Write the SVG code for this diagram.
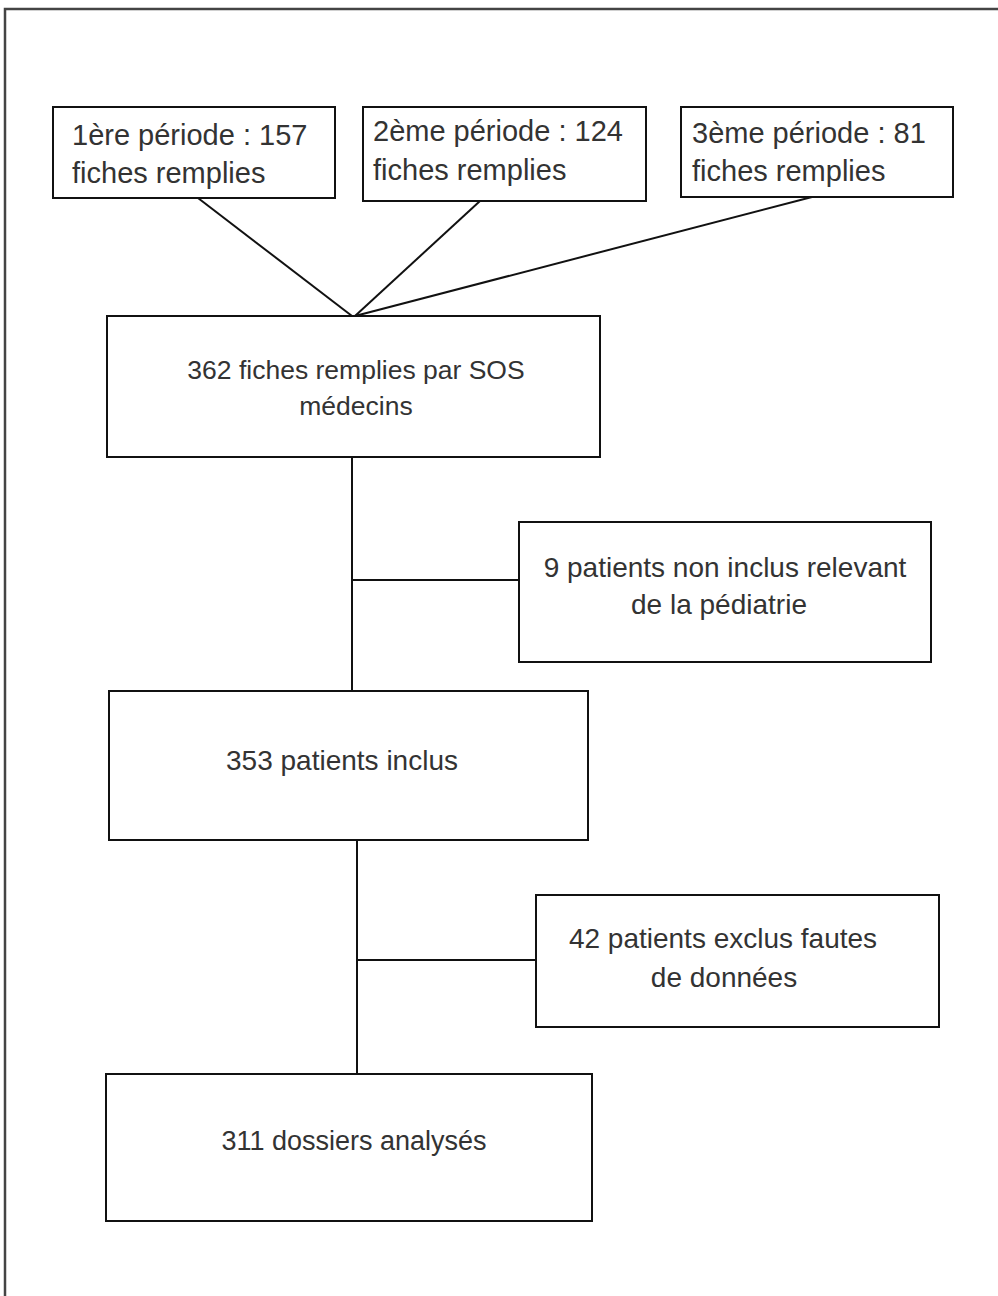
<svg xmlns="http://www.w3.org/2000/svg" width="998" height="1296" viewBox="0 0 998 1296">
<style>
.box{fill:#fff;stroke:#111;stroke-width:2}
.t{font-family:"Liberation Sans",Arial,sans-serif;fill:#333}
.big{font-size:29px}
.mid{font-size:26.5px}
.mid2{font-size:28px}
.c{text-anchor:middle}
.ln{stroke:#111;stroke-width:2;fill:none}
</style>
<rect x="0" y="0" width="998" height="1296" fill="#fff"/>
<path d="M5,1296 V9 H998" stroke="#444" stroke-width="2.5" fill="none"/>
<g id="connectors">
<line class="ln" x1="198" y1="198" x2="352" y2="316"/>
<line class="ln" x1="480" y1="201" x2="355" y2="316"/>
<line class="ln" x1="812" y1="197" x2="355" y2="316"/>
<line class="ln" x1="352" y1="457" x2="352" y2="691"/>
<line class="ln" x1="352" y1="580" x2="519" y2="580"/>
<line class="ln" x1="357" y1="840" x2="357" y2="1074"/>
<line class="ln" x1="357" y1="960" x2="537" y2="960"/>
</g>
<g id="p1">
<rect class="box" x="53" y="107" width="282" height="91"/>
<text class="t big" x="72" y="145">1ère période : 157</text>
<text class="t big" x="72" y="183">fiches remplies</text>
</g>
<g id="p2">
<rect class="box" x="363" y="107" width="283" height="94"/>
<text class="t big" x="373" y="141">2ème période : 124</text>
<text class="t big" x="373" y="180">fiches remplies</text>
</g>
<g id="p3">
<rect class="box" x="681" y="107" width="272" height="90"/>
<text class="t big" x="692" y="143">3ème période : 81</text>
<text class="t big" x="692" y="181">fiches remplies</text>
</g>
<g id="n362">
<rect class="box" x="107" y="316" width="493" height="141"/>
<text class="t mid c" x="356" y="379">362 fiches remplies par SOS</text>
<text class="t mid c" x="356" y="415">médecins</text>
</g>
<g id="n9">
<rect class="box" x="519" y="522" width="412" height="140"/>
<text class="t mid2 c" x="725" y="577">9 patients non inclus relevant</text>
<text class="t mid2 c" x="719" y="614">de la pédiatrie</text>
</g>
<g id="n353">
<rect class="box" x="109" y="691" width="479" height="149"/>
<text class="t mid2 c" x="342" y="770">353 patients inclus</text>
</g>
<g id="n42">
<rect class="box" x="536" y="895" width="403" height="132"/>
<text class="t mid2 c" x="723" y="948">42 patients exclus fautes</text>
<text class="t mid2 c" x="724" y="987">de données</text>
</g>
<g id="n311">
<rect class="box" x="106" y="1074" width="486" height="147"/>
<text class="t c" style="font-size:27px" x="354" y="1150">311 dossiers analysés</text>
</g>
</svg>
